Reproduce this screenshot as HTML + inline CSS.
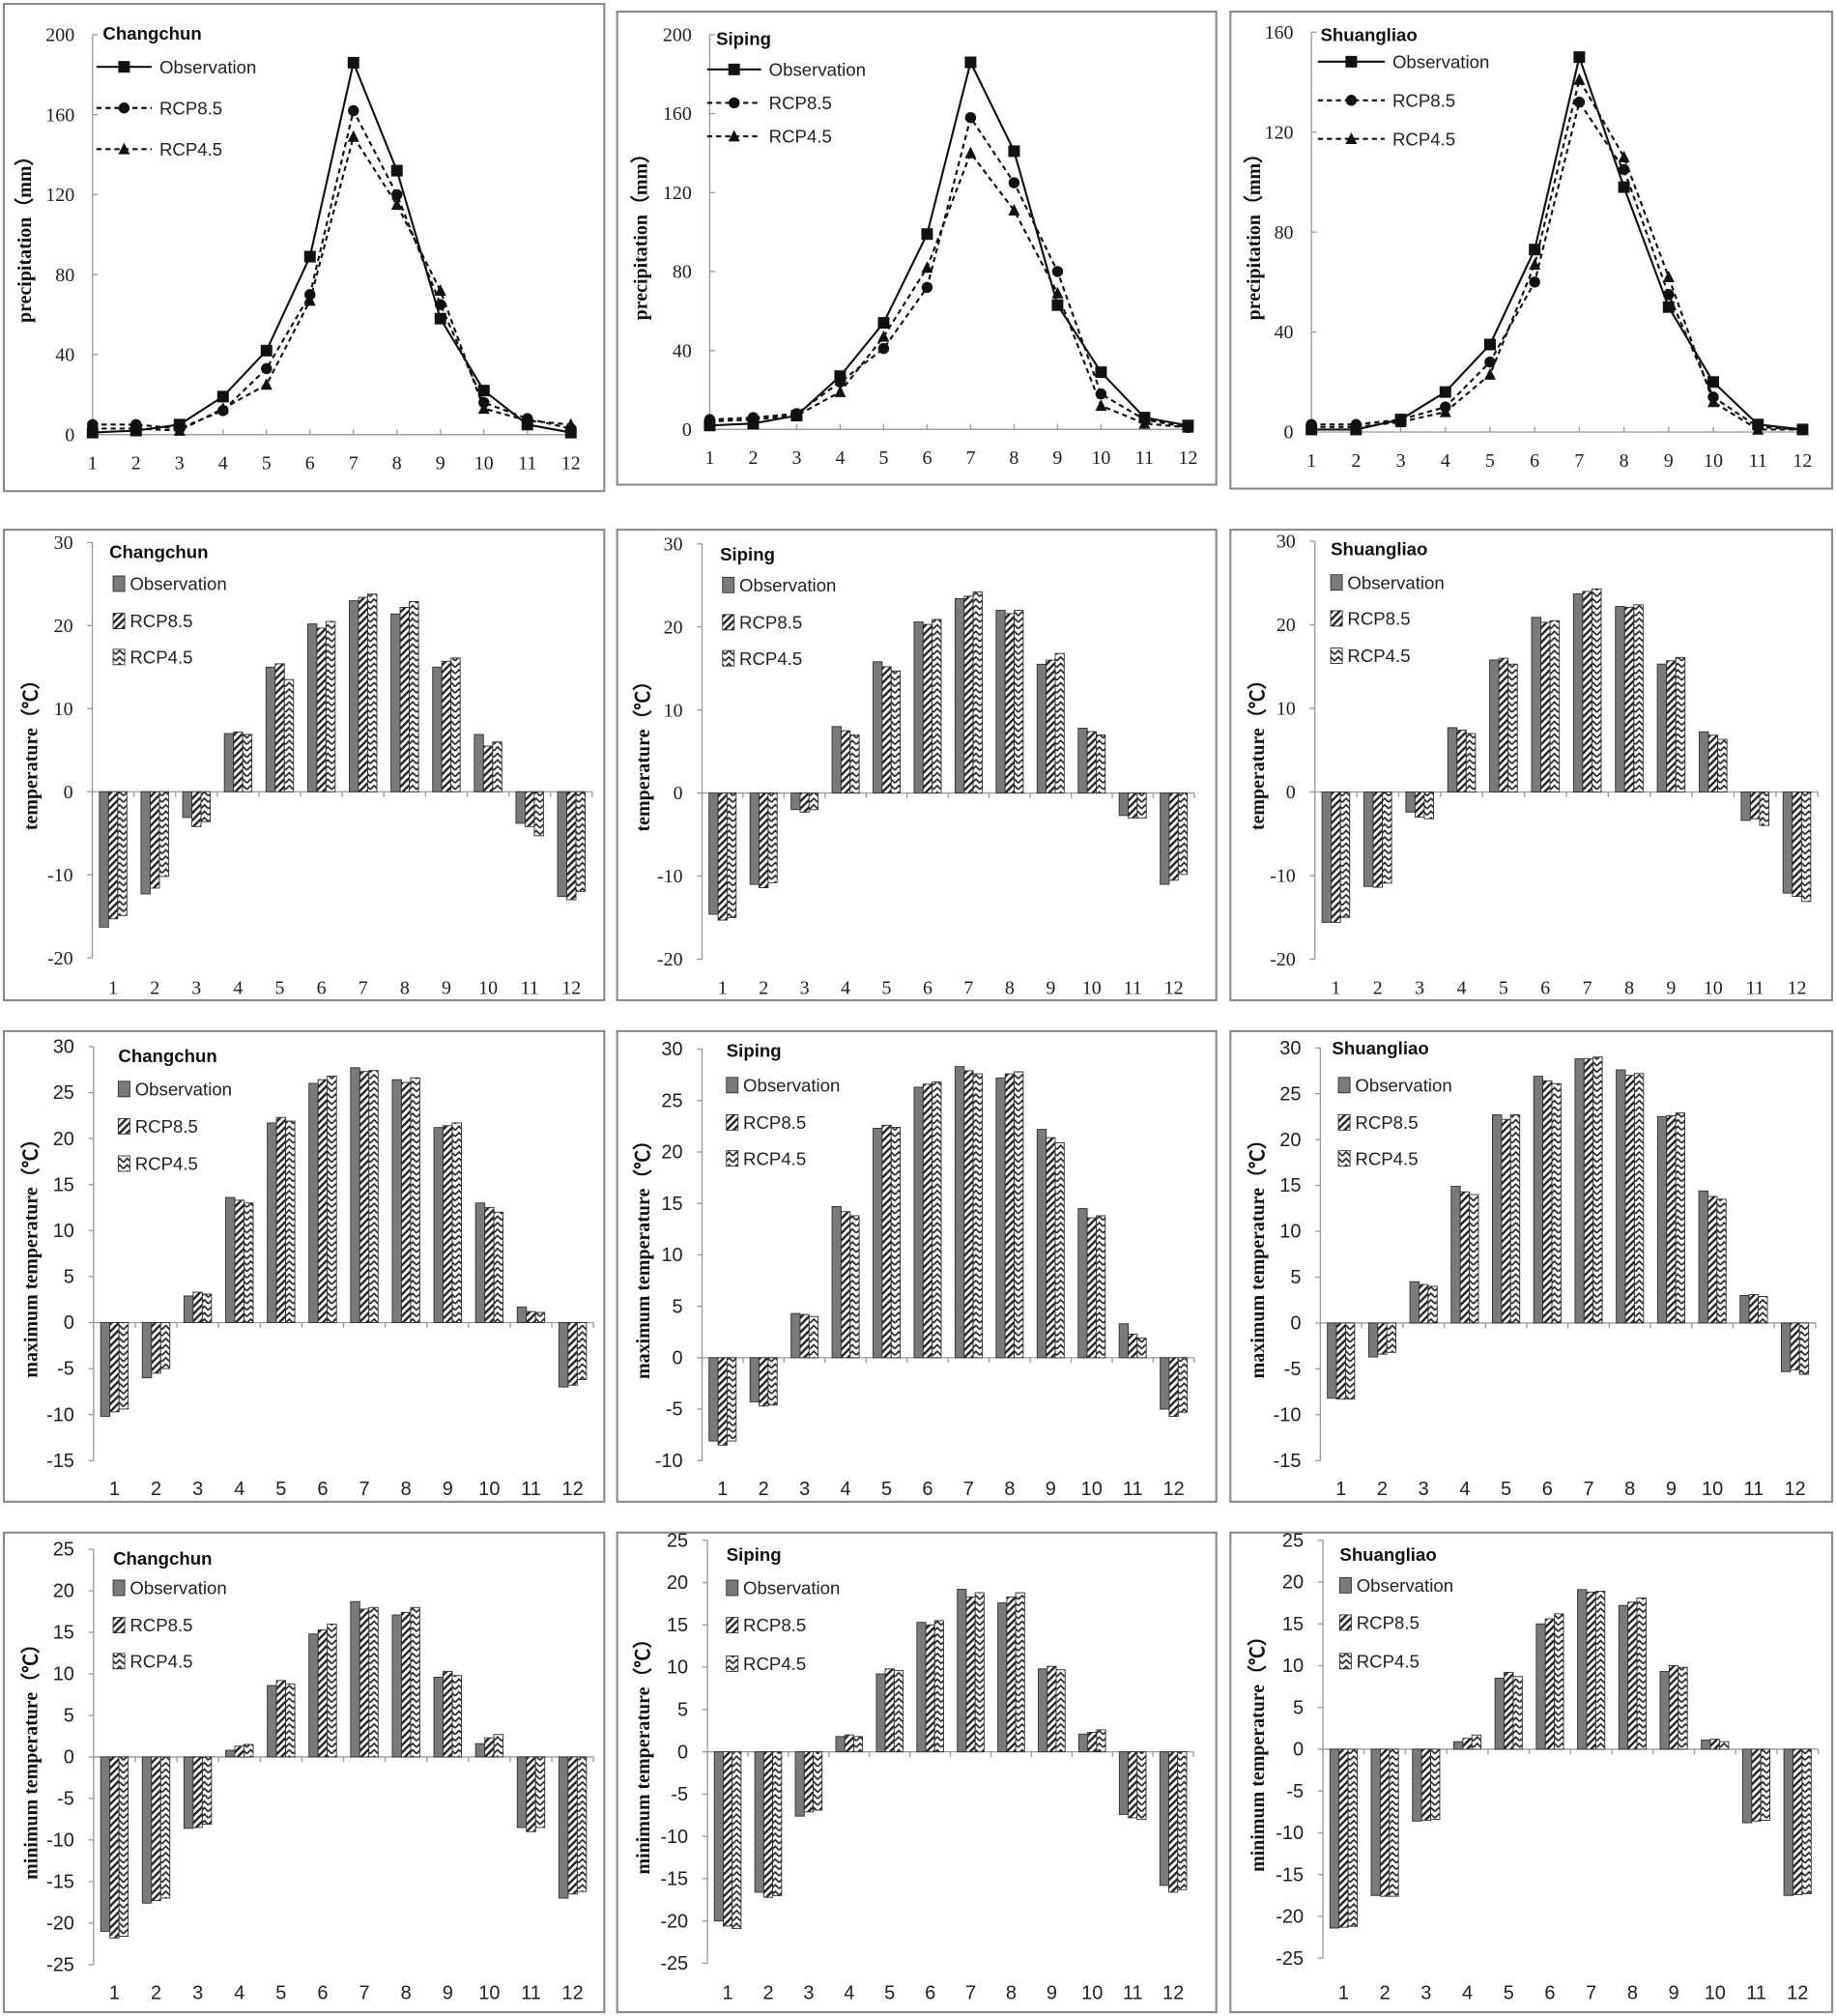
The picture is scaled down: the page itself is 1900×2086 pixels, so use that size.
<!DOCTYPE html>
<html><head><meta charset="utf-8"><style>
html,body{margin:0;padding:0;background:#fff;width:1900px;height:2086px;overflow:hidden}
svg{display:block}
</style></head><body>
<svg id="s" width="1900" height="2086" viewBox="0 0 1428 1568" preserveAspectRatio="none" xmlns="http://www.w3.org/2000/svg">
<defs>
<pattern id="p85" width="4" height="4" patternUnits="userSpaceOnUse" patternTransform="rotate(45)"><rect width="4" height="4" fill="#fff"/><rect width="1.8" height="4" fill="#222"/></pattern>
<pattern id="p45" width="6" height="5" patternUnits="userSpaceOnUse"><rect width="6" height="5" fill="#fff"/><path d="M0,4 L3,1 L6,4" fill="none" stroke="#222" stroke-width="1.3"/></pattern>
</defs>
<g id="g"></g>
</svg>
<script>
var NS="http://www.w3.org/2000/svg",G=document.getElementById('g');
function el(t,a,txt){var e=document.createElementNS(NS,t);for(var k in a)e.setAttribute(k,a[k]);if(txt!=null)e.textContent=txt;G.appendChild(e);return e;}
var SERIF='"Liberation Serif",serif',SANS='"Liberation Sans","Noto Sans CJK SC",sans-serif';
function frame(x1,y1,x2,y2){el('rect',{x:x1,y:y1,width:x2-x1,height:y2-y1,fill:'none',stroke:'#8a8a8a','stroke-width':1.6});}
function ytitle(x,yc,txt){el('text',{x:x,y:yc,transform:'rotate(-90 '+x+' '+yc+')','text-anchor':'middle','font-family':SERIF,'font-weight':'bold','font-size':15,fill:'#111'},txt);}
// line chart
function line(o){
 frame(o.fx1,o.fy1,o.fx2,o.fy2);
 var X=function(i){return o.x1+(o.x12-o.x1)*(i)/11;},Y=function(v){return o.y0+(o.ytop-o.y0)*v/o.max;};
 el('line',{x1:o.x1,y1:o.ytop,x2:o.x1,y2:o.y0,stroke:'#999'});
 el('line',{x1:o.x1,y1:o.y0,x2:o.x12,y2:o.y0,stroke:'#999'});
 for(var v=0;v<=o.max;v+=o.step){el('line',{x1:o.x1,y1:Y(v),x2:o.x1+4,y2:Y(v),stroke:'#999'});
  el('text',{x:o.x1-14,y:Y(v)+5,'text-anchor':'end','font-family':SERIF,'font-size':15,fill:'#222'},v);}
 for(var i=0;i<12;i++){el('line',{x1:X(i),y1:o.y0,x2:X(i),y2:o.y0-4,stroke:'#999'});
  el('text',{x:X(i),y:o.y0+27,'text-anchor':'middle','font-family':SERIF,'font-size':15,fill:'#222'},i+1);}
 var S=[[o.obs,'','sq'],[o.r85,'4,3','ci'],[o.r45,'4,3','tr']];
 S.forEach(function(s){var p='';s[0].forEach(function(v,i){p+=(i?'L':'M')+X(i)+','+Y(v);});
  el('path',{d:p,fill:'none',stroke:'#111','stroke-width':1.6,'stroke-dasharray':s[1]});
  s[0].forEach(function(v,i){mk(s[2],X(i),Y(v));});});
 el('text',{x:o.tx,y:o.ty,'font-family':SANS,'font-weight':'bold','font-size':14,fill:'#111'},o.name);
 var L=['Observation','RCP8.5','RCP4.5'];
 for(var k=0;k<3;k++){var yy=o.ly[k];el('line',{x1:o.lx1,y1:yy,x2:o.lx2,y2:yy,stroke:'#111','stroke-width':1.6,'stroke-dasharray':S[k][1]});
  mk(S[k][2],(o.lx1+o.lx2)/2,yy);el('text',{x:o.lx2+6,y:yy+5,'font-family':SANS,'font-size':14,fill:'#222'},L[k]);}
 ytitle(o.atx,(o.ytop+o.y0)/2,'precipitation（mm）');
}
function mk(t,x,y){if(t=='sq')el('rect',{x:x-4.5,y:y-4.5,width:9,height:9,fill:'#111'});
 else if(t=='ci')el('circle',{cx:x,cy:y,r:4.3,fill:'#111'});
 else el('path',{d:'M'+(x-4.5)+','+(y+4)+'L'+x+','+(y-5)+'L'+(x+4.5)+','+(y+4)+'Z',fill:'#111'});}
// bar chart
function bar(o){
 frame(o.fx1,o.fy1,o.fx2,o.fy2);
 var cw=o.cw,ax=o.l1-cw/2,end=ax+12*cw;
 var Y=function(v){return o.yb+(o.yt-o.yb)*(v-o.min)/(o.max-o.min);};
 el('line',{x1:ax,y1:Y(o.max),x2:ax,y2:Y(o.min),stroke:'#999'});
 el('line',{x1:ax,y1:Y(0),x2:end,y2:Y(0),stroke:'#999'});
 for(var v=o.min;v<=o.max;v+=o.step){el('line',{x1:ax-4,y1:Y(v),x2:ax,y2:Y(v),stroke:'#999'});
  el('text',{x:ax-15,y:Y(v)+5,'text-anchor':'end','font-family':o.font,'font-size':15,fill:'#222'},v);}
 for(var i=0;i<=12;i++)el('line',{x1:ax+i*cw,y1:Y(0),x2:ax+i*cw,y2:Y(0)+4,stroke:'#999'});
 for(var i=0;i<12;i++)el('text',{x:ax+(i+.5)*cw,y:o.lab,'text-anchor':'middle','font-family':o.font,'font-size':15,fill:'#222'},i+1);
 var bw=cw*0.22,fills=['#7a7a7a','url(#p85)','url(#p45)'],D=[o.obs,o.r85,o.r45];
 for(var i=0;i<12;i++)for(var k=0;k<3;k++){var v=D[k][i],x=ax+i*cw+cw/2-1.5*bw+k*bw,y1=Y(Math.max(v,0)),y2=Y(Math.min(v,0));
  el('rect',{x:x,y:y1,width:bw,height:Math.max(y2-y1,.5),fill:fills[k],stroke:'#333','stroke-width':0.7});}
 el('text',{x:o.tx,y:o.ty,'font-family':SANS,'font-weight':'bold','font-size':14,fill:'#111'},o.name);
 var L=['Observation','RCP8.5','RCP4.5'];
 for(var k=0;k<3;k++){var yy=o.ly[k];el('rect',{x:o.lx,y:yy-6,width:9,height:12,fill:fills[k],stroke:'#333','stroke-width':0.7});
  el('text',{x:o.lx+13,y:yy+5,'font-family':SANS,'font-size':14,fill:'#222'},L[k]);}
 ytitle(o.atx,(Y(o.max)+Y(o.min))/2,o.title);
}
// Row1
line({fx1:3,fy1:3,fx2:470,fy2:382,x1:72,x12:444,y0:338,ytop:27,max:200,step:40,tx:80,ty:31,lx1:75,lx2:118,ly:[52,84,116],atx:24,name:'Changchun',
 obs:[1,2,5,19,42,89,186,132,58,22,5,1],r85:[5,5,3,12,33,70,162,120,65,16,8,3],r45:[3,3,2,13,25,67,149,115,72,13,7,5]});
line({fx1:480,fy1:9,fx2:946,fy2:377,x1:552,x12:924,y0:334,ytop:27,max:200,step:40,tx:557,ty:35,lx1:550,lx2:592,ly:[54,80,106],atx:503,name:'Siping',
 obs:[2,3,7,27,54,99,186,141,63,29,6,2],r85:[5,6,8,24,41,72,158,125,80,18,5,1],r45:[4,5,7,19,47,82,140,111,69,12,3,1]});
line({fx1:957,fy1:9,fx2:1425,fy2:380,x1:1020,x12:1402,y0:336,ytop:25,max:160,step:40,tx:1027,ty:32,lx1:1025,lx2:1077,ly:[48,78,108],atx:980,name:'Shuangliao',
 obs:[1,1,5,16,35,73,150,98,50,20,3,1],r85:[3,3,5,10,28,60,132,105,55,14,2,1],r45:[2,2,4,8,23,67,141,110,62,12,1,1]});
// Row2
var T='temperature（℃）';
bar({fx1:3,fy1:412,fx2:470,fy2:778,l1:88,cw:32.4,yt:422,yb:745,max:30,min:-20,step:10,lab:773,font:SERIF,tx:85,ty:434,lx:88,ly:[454,483,511],atx:29,title:T,name:'Changchun',
 obs:[-16.3,-12.3,-3.1,7,15,20.2,23,21.4,15,6.9,-3.8,-12.6],r85:[-15.3,-11.6,-4.2,7.2,15.4,19.7,23.4,22.2,15.7,5.5,-4.2,-13],r45:[-14.9,-10.2,-3.6,6.9,13.5,20.5,23.8,22.9,16.1,6,-5.3,-12]});
bar({fx1:480,fy1:412,fx2:946,fy2:778,l1:562,cw:31.9,yt:423,yb:746,max:30,min:-20,step:10,lab:773,font:SERIF,tx:560,ty:436,lx:562,ly:[455,484,512],atx:505,title:T,name:'Siping',
 obs:[-14.6,-11,-2,8,15.8,20.6,23.4,22,15.5,7.8,-2.7,-11],r85:[-15.3,-11.4,-2.3,7.5,15.2,20.3,23.7,21.6,16,7.4,-3,-10.5],r45:[-15,-10.8,-2,7,14.7,20.9,24.2,22,16.8,7,-3,-9.8]});
bar({fx1:957,fy1:412,fx2:1425,fy2:778,l1:1039,cw:32.6,yt:421,yb:746,max:30,min:-20,step:10,lab:773,font:SERIF,tx:1035,ty:432,lx:1035,ly:[453,481,510],atx:983,title:T,name:'Shuangliao',
 obs:[-15.6,-11.3,-2.4,7.7,15.8,20.9,23.7,22.2,15.3,7.2,-3.4,-12.1],r85:[-15.6,-11.4,-3,7.4,16,20.3,24,22.1,15.7,6.8,-3.2,-12.5],r45:[-15,-10.9,-3.2,7,15.3,20.5,24.3,22.4,16.1,6.3,-4,-13.1]});
// Row3
var M='maximum temperature（℃）';
bar({fx1:3,fy1:802,fx2:470,fy2:1168,l1:89,cw:32.4,yt:814,yb:1136,max:30,min:-15,step:5,lab:1163,font:SANS,tx:92,ty:826,lx:92,ly:[847,876,905],atx:29,title:M,name:'Changchun',
 obs:[-10.2,-6,2.9,13.6,21.7,26,27.7,26.4,21.2,13,1.7,-7],r85:[-9.7,-5.5,3.3,13.3,22.3,26.4,27.3,26.1,21.4,12.5,1.2,-6.8],r45:[-9.4,-5,3.1,13,21.9,26.8,27.4,26.6,21.7,12,1.1,-6.2]});
bar({fx1:480,fy1:802,fx2:946,fy2:1168,l1:562,cw:31.9,yt:816,yb:1136,max:30,min:-10,step:5,lab:1163,font:SANS,tx:565,ty:822,lx:565,ly:[844,873,901],atx:505,title:M,name:'Siping',
 obs:[-8.1,-4.3,4.3,14.7,22.3,26.3,28.3,27.2,22.2,14.5,3.3,-5],r85:[-8.5,-4.7,4.2,14.2,22.6,26.6,27.9,27.6,21.4,13.6,2.3,-5.7],r45:[-8.1,-4.6,4,13.8,22.4,26.8,27.6,27.8,20.9,13.8,1.9,-5.3]});
bar({fx1:957,fy1:802,fx2:1425,fy2:1168,l1:1043,cw:32.1,yt:815,yb:1136,max:30,min:-15,step:5,lab:1163,font:SANS,tx:1036,ty:820,lx:1041,ly:[844,873,901],atx:983,title:M,name:'Shuangliao',
 obs:[-8.2,-3.7,4.5,14.9,22.7,26.9,28.8,27.6,22.5,14.4,3,-5.3],r85:[-8.3,-3.4,4.2,14.3,22.2,26.4,28.8,27,22.6,13.8,3.1,-5.1],r45:[-8.3,-3.2,4,14,22.7,26.1,29,27.2,22.9,13.5,2.9,-5.6]});
// Row4
var N='minimum temperature（℃）';
bar({fx1:3,fy1:1192,fx2:470,fy2:1565,l1:89,cw:32.4,yt:1205,yb:1528,max:25,min:-25,step:5,lab:1555,font:SANS,tx:88,ty:1217,lx:88,ly:[1235,1264,1292],atx:29,title:N,name:'Changchun',
 obs:[-21,-17.6,-8.6,0.8,8.6,14.8,18.7,17.1,9.6,1.6,-8.5,-17],r85:[-21.8,-17.3,-8.5,1.3,9.2,15.3,17.8,17.4,10.3,2.3,-9,-16.5],r45:[-21.6,-17,-8.1,1.5,8.8,16,18,18,9.8,2.7,-8.5,-16.2]});
bar({fx1:480,fy1:1192,fx2:946,fy2:1565,l1:566,cw:31.5,yt:1198,yb:1527,max:25,min:-25,step:5,lab:1555,font:SANS,tx:565,ty:1214,lx:565,ly:[1235,1264,1294],atx:505,title:N,name:'Siping',
 obs:[-20,-16.6,-7.6,1.8,9.2,15.3,19.2,17.6,9.8,2.1,-7.4,-15.8],r85:[-20.6,-17.2,-7.1,2,9.8,15,18.3,18.3,10.1,2.3,-7.8,-16.6],r45:[-20.9,-17,-6.9,1.8,9.6,15.5,18.8,18.8,9.7,2.6,-8,-16.3]});
bar({fx1:957,fy1:1192,fx2:1425,fy2:1565,l1:1045,cw:32.1,yt:1198,yb:1523,max:25,min:-25,step:5,lab:1555,font:SANS,tx:1042,ty:1214,lx:1042,ly:[1233,1262,1292],atx:983,title:N,name:'Shuangliao',
 obs:[-21.4,-17.5,-8.6,0.9,8.5,15,19.1,17.2,9.3,1.1,-8.8,-17.5],r85:[-21.3,-17.6,-8.5,1.3,9.2,15.6,18.8,17.6,10,1.2,-8.6,-17.4],r45:[-21.2,-17.6,-8.4,1.7,8.7,16.2,18.9,18.1,9.8,0.9,-8.5,-17.3]});
</script>
</body></html>
